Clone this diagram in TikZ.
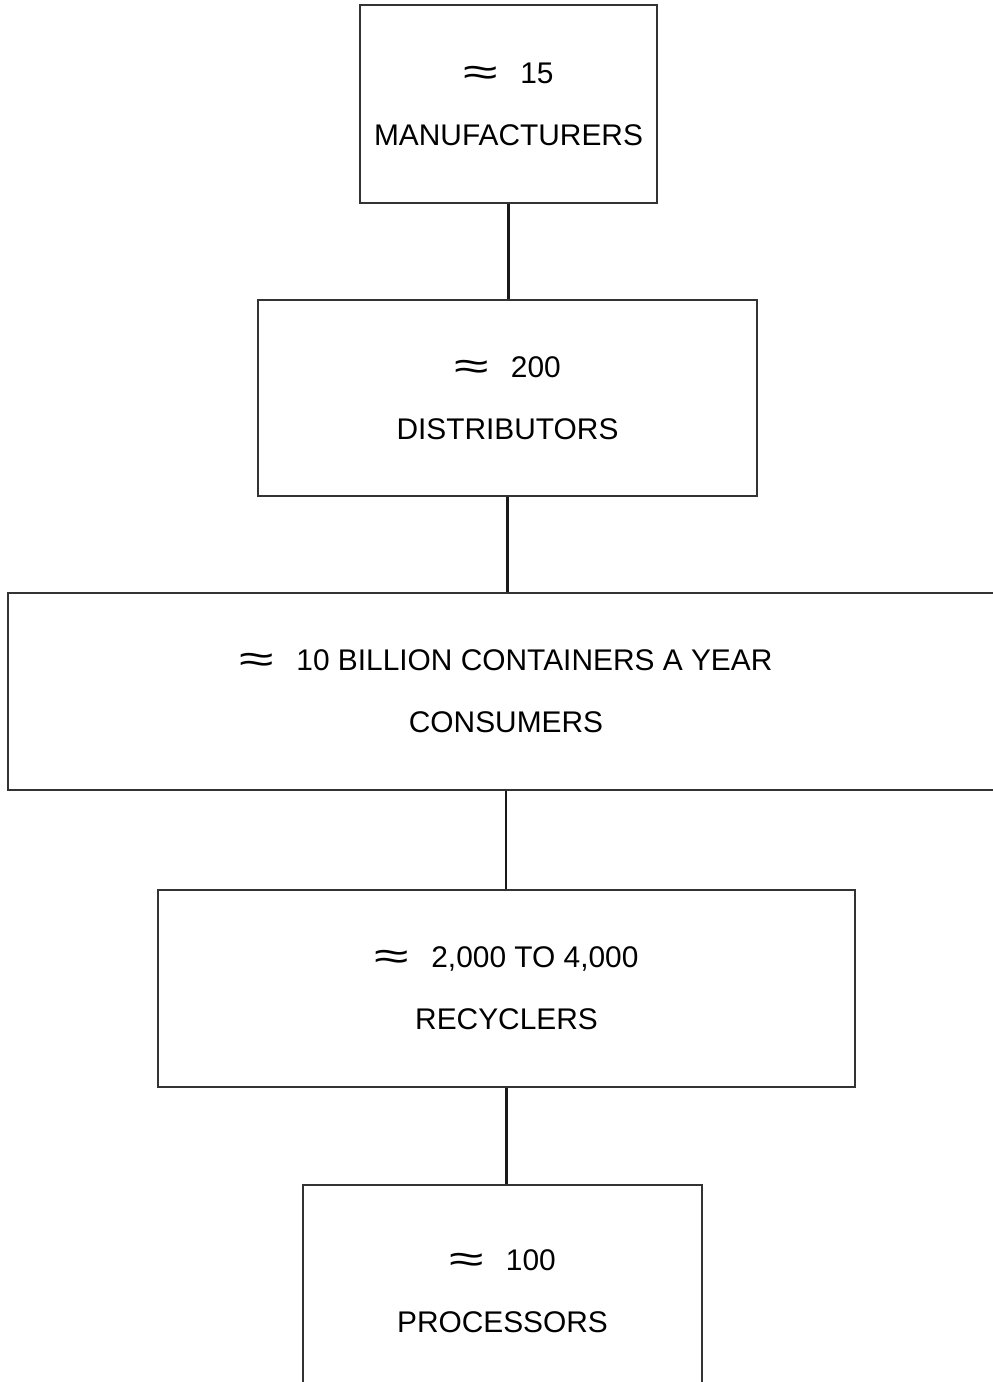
\documentclass[tikz,border=0pt]{standalone}
\usepackage{fontspec}
\usepackage{graphicx}
\setmainfont{Liberation Sans}
\usetikzlibrary{calc}
\newcommand{\stagefont}{\fontsize{8.5}{17.65}\selectfont}
\newcommand{\aprox}{\raisebox{-0.6pt}{\scalebox{2.1}[1.3]{≈}}}
\tikzset{stage/.style={draw=black!80,line width=0.45pt,inner sep=0pt,
                       align=center,font=\stagefont,minimum width=#1},
         stage/.default=3cm}
\tikzset{link/.style={draw=black!90,line width=0.7pt}}

\begin{document}
\begin{tikzpicture}

		% Area of the page
		\useasboundingbox (0,0) rectangle (9.93,-13.82);

		% The five stages of the chain
		\node [stage=2.97cm, minimum height=1.98cm] (manufacturers) at (5.085,-1.04)
			{\aprox\hspace{0.75em}15\\MANUFACTURERS};

		\node [stage=4.99cm, minimum height=1.96cm] (distributors) at (5.075,-3.98)
			{\aprox\hspace{0.75em}200\\DISTRIBUTORS};

		\node [stage=9.96cm, minimum height=1.97cm] (consumers) at (5.06,-6.915)
			{\aprox\hspace{0.75em}10 BILLION CONTAINERS A YEAR\\CONSUMERS};

		\node [stage=6.97cm, minimum height=1.97cm] (recyclers) at (5.065,-9.885)
			{\aprox\hspace{0.75em}2,000 TO 4,000\\RECYCLERS};

		\node [stage=3.99cm, minimum height=2.12cm] (processors) at (5.025,-12.91)
			{\aprox\hspace{0.75em}100\\PROCESSORS};

		% Lines between the stages
		\draw [link] (manufacturers.south) -- (manufacturers.south |- distributors.north);
		\draw [link] (distributors.south) -- (distributors.south |- consumers.north);
		\draw [link] (consumers.south) -- (consumers.south |- recyclers.north);
		\draw [link] (recyclers.south) -- (recyclers.south |- processors.north);

\end{tikzpicture}
\end{document}
